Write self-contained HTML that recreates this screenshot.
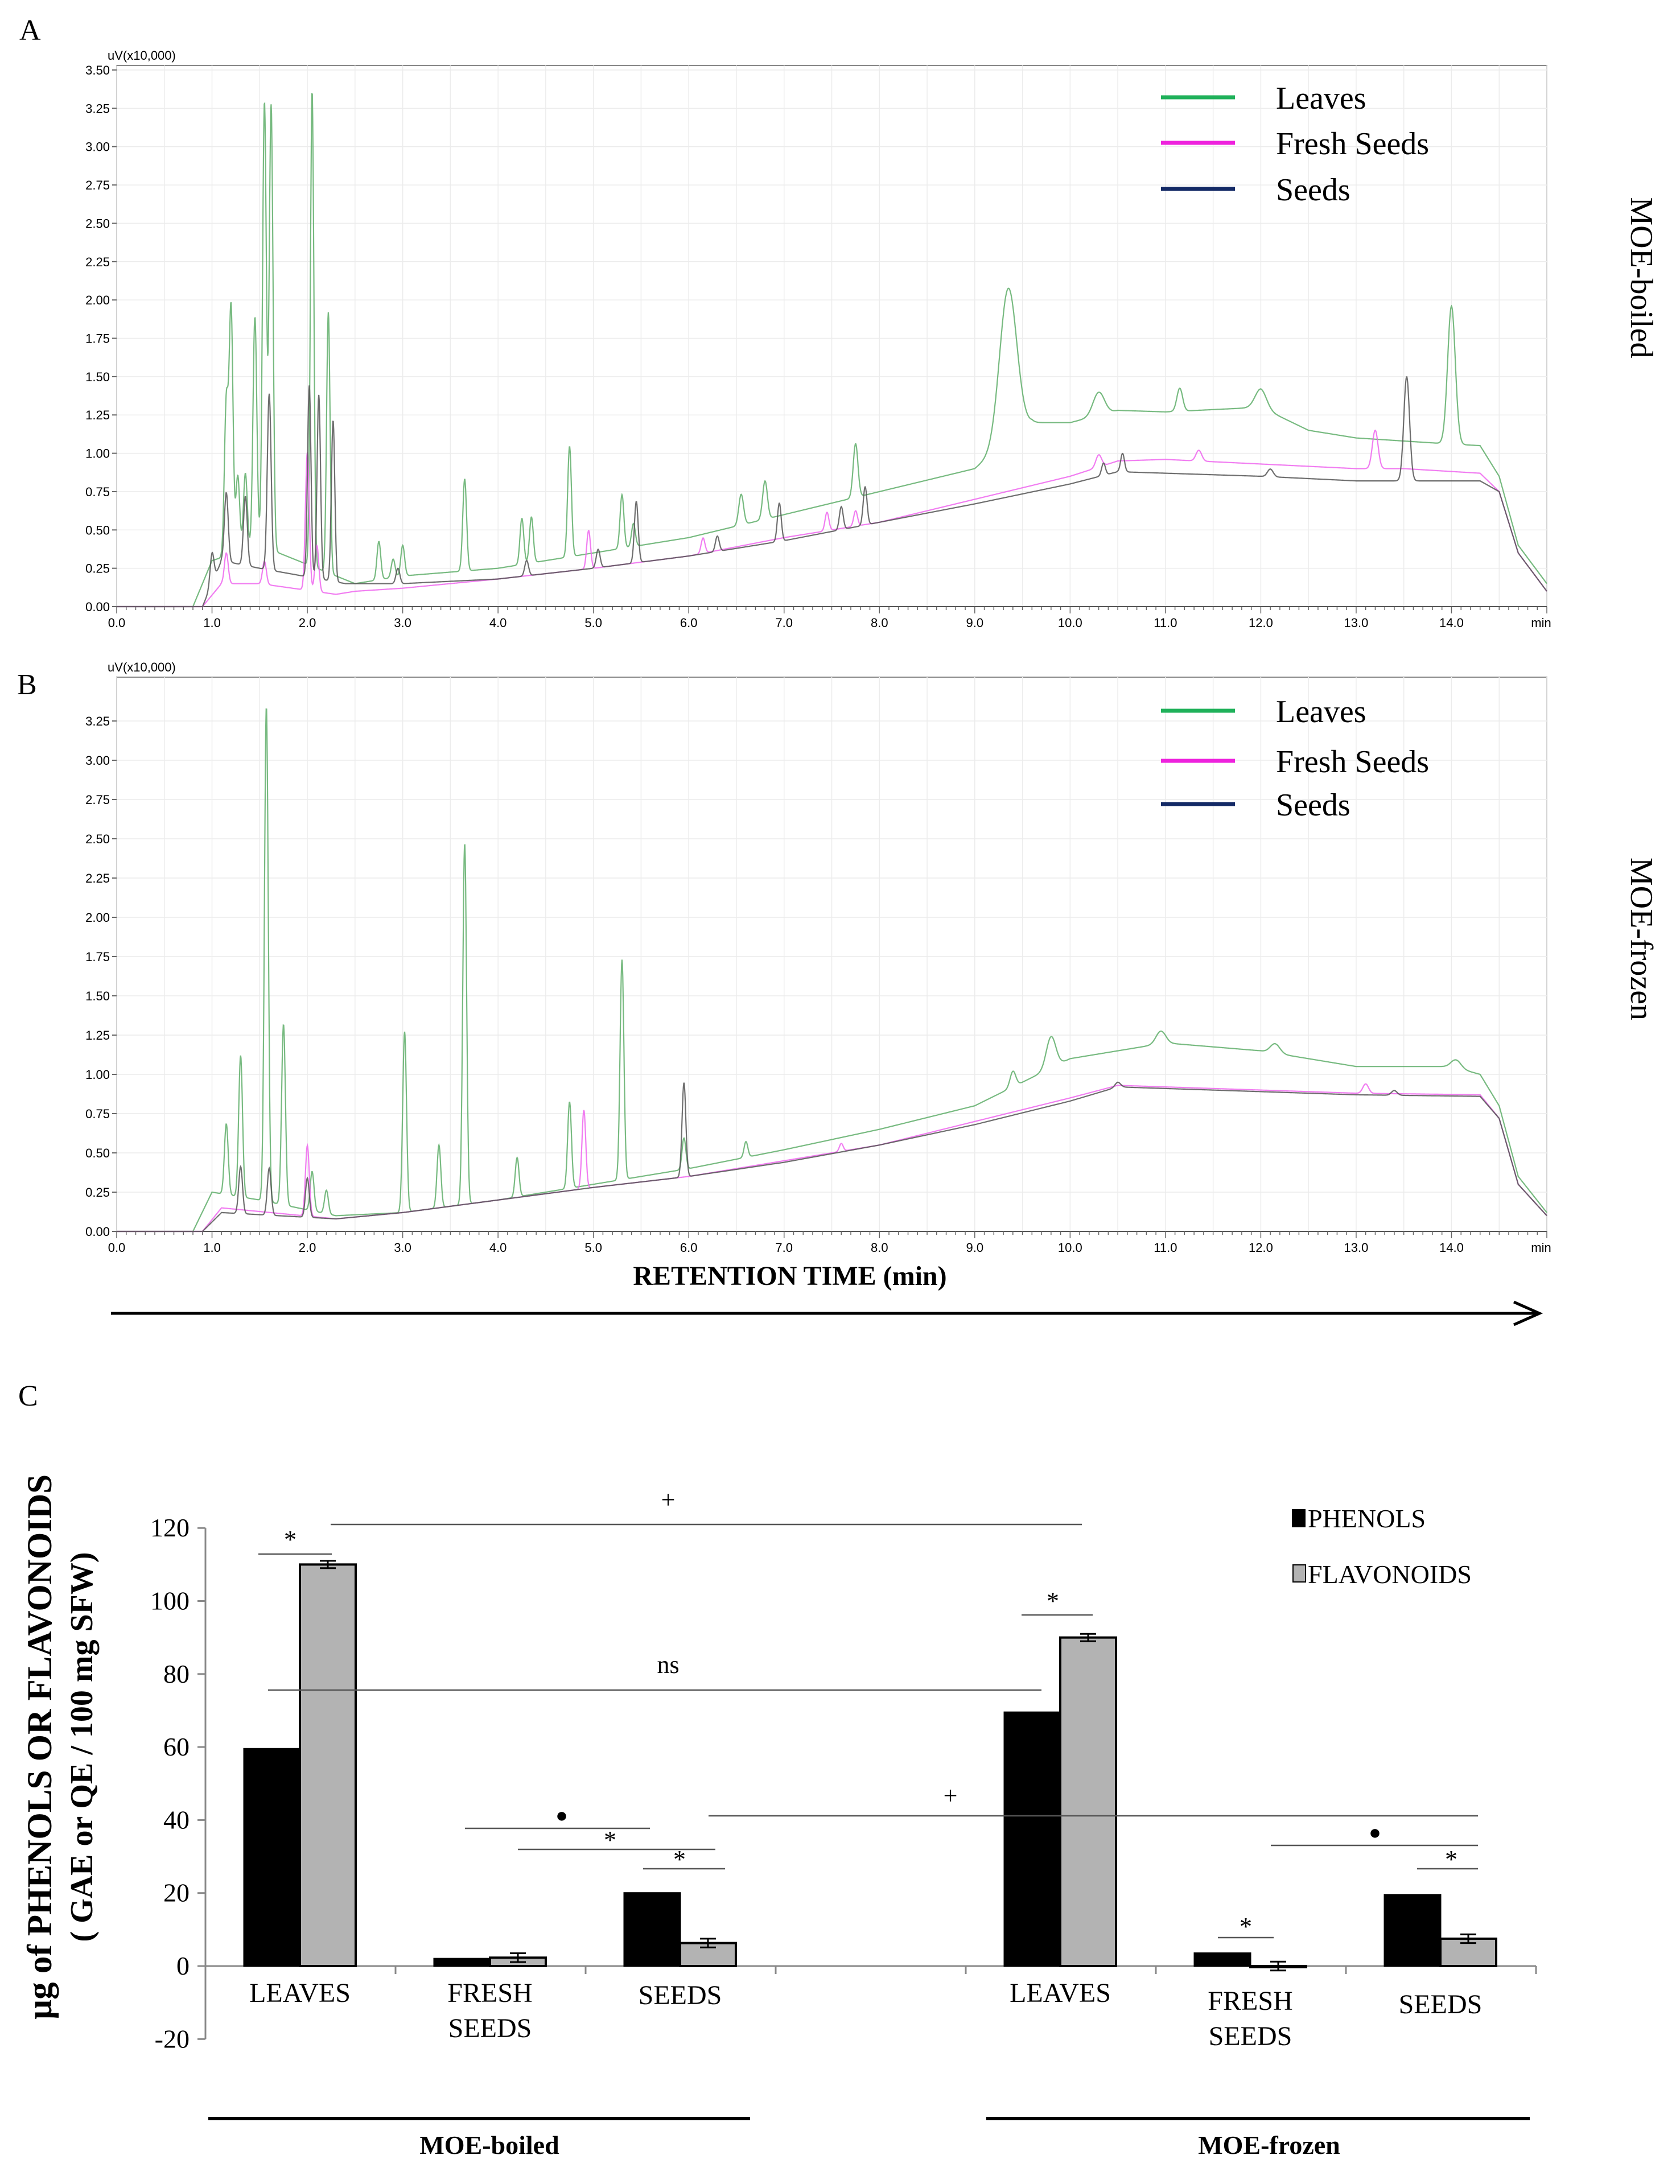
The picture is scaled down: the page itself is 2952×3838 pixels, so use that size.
<!DOCTYPE html>
<html><head><meta charset="utf-8"><style>
html,body{margin:0;padding:0;background:#fff}
svg{display:block}
</style></head><body>
<svg id="fig" width="2952" height="3838" xmlns="http://www.w3.org/2000/svg" font-family="Liberation Serif, serif">
<g id="gA"></g>
<g id="gB"></g>
<g id="gC"></g>
<text x="34" y="70" font-size="52">A</text>
<text x="30" y="1220" font-size="52">B</text>
<text x="32" y="2470" font-size="52">C</text>
<text transform="translate(2866,488) rotate(90)" text-anchor="middle" font-size="56">MOE-boiled</text>
<text transform="translate(2866,1650) rotate(90)" text-anchor="middle" font-size="56">MOE-frozen</text>
<text x="1388" y="2258" text-anchor="middle" font-size="48" font-weight="bold">RETENTION TIME (min)</text>
<line x1="195" y1="2308" x2="2700" y2="2308" stroke="#000" stroke-width="5"/>
<polyline points="2660,2288 2705,2308 2660,2328" fill="none" stroke="#000" stroke-width="5"/>
</svg>
<script>
// ---------- Chromatogram data ----------
const tickTimes = [0,1,2,3,4,5,6,7,8,9,10,11,12,13,14];
const yTicksA = [0,0.25,0.5,0.75,1,1.25,1.5,1.75,2,2.25,2.5,2.75,3,3.25,3.5];
const yTicksB = [0,0.25,0.5,0.75,1,1.25,1.5,1.75,2,2.25,2.5,2.75,3,3.25];
const seriesNames = ["Leaves","Fresh Seeds","Seeds"];
const baseA_leaves = [[0,0],[0.8,0],[1.0,0.3],[1.5,0.4],[2.3,0.2],[2.5,0.15],[3,0.2],[4,0.25],[5,0.35],[6,0.45],[7,0.6],[8,0.75],[9,0.9],[9.6,1.2],[10,1.2],[10.5,1.28],[11,1.27],[12,1.3],[12.5,1.15],[13,1.1],[13.5,1.08],[14,1.06],[14.3,1.05],[14.5,0.85],[14.7,0.4],[15,0.15]];
const baseA_fresh = [[0,0],[0.9,0],[1.1,0.15],[1.5,0.15],[2.3,0.08],[2.5,0.1],[3,0.12],[4,0.18],[5,0.25],[6,0.33],[7,0.45],[8,0.55],[9,0.7],[10,0.85],[10.5,0.95],[11,0.96],[12,0.93],[13,0.9],[13.5,0.9],[14.3,0.87],[14.5,0.75],[14.7,0.35],[15,0.1]];
const baseA_seeds = [[0,0],[0.9,0],[1.1,0.3],[1.5,0.25],[2.4,0.15],[3,0.15],[4,0.18],[5,0.25],[6,0.33],[7,0.43],[8,0.55],[9,0.67],[10,0.8],[10.5,0.88],[11,0.87],[12,0.85],[13,0.82],[14.3,0.82],[14.5,0.75],[14.7,0.35],[15,0.1]];
const peaksA_leaves = [[1.15,1.0,0.02],[1.2,1.6,0.02],[1.27,0.5,0.02],[1.35,0.5,0.02],[1.45,1.5,0.02],[1.55,2.9,0.02],[1.62,2.9,0.02],[2.05,3.1,0.018],[2.22,1.7,0.018],[2.75,0.25,0.02],[2.9,0.12,0.02],[3.0,0.2,0.02],[3.65,0.6,0.02],[4.25,0.3,0.02],[4.35,0.3,0.02],[4.75,0.72,0.02],[5.3,0.35,0.02],[5.42,0.15,0.02],[6.55,0.2,0.025],[6.8,0.25,0.025],[7.75,0.35,0.025],[9.35,1.0,0.09],[10.3,0.15,0.06],[11.15,0.15,0.03],[12.0,0.12,0.06],[14.0,0.9,0.04]];
const peaksA_fresh = [[1.15,0.2,0.02],[1.55,0.15,0.02],[2.0,0.9,0.02],[2.1,0.3,0.02],[4.95,0.25,0.02],[6.15,0.1,0.02],[7.45,0.12,0.02],[7.75,0.1,0.02],[10.3,0.08,0.03],[11.35,0.07,0.03],[13.2,0.25,0.03]];
const peaksA_seeds = [[1.0,0.2,0.02],[1.15,0.45,0.02],[1.35,0.45,0.02],[1.6,1.15,0.02],[2.02,1.25,0.018],[2.12,1.2,0.018],[2.27,1.05,0.018],[2.95,0.1,0.02],[4.3,0.1,0.02],[5.05,0.12,0.02],[5.45,0.4,0.02],[6.3,0.1,0.02],[6.95,0.25,0.02],[7.6,0.15,0.02],[7.85,0.25,0.02],[10.35,0.08,0.02],[10.55,0.12,0.02],[12.1,0.05,0.03],[13.53,0.68,0.03]];
const baseB_leaves = [[0,0],[0.8,0],[1.0,0.25],[1.5,0.2],[2.3,0.1],[3,0.12],[4,0.2],[5,0.3],[6,0.4],[7,0.52],[8,0.65],[9,0.8],[9.5,0.95],[10,1.1],[11,1.2],[12,1.15],[13,1.05],[14,1.05],[14.3,1.0],[14.5,0.8],[14.7,0.35],[15,0.12]];
const baseB_fresh = [[0,0],[0.9,0],[1.1,0.15],[2.3,0.08],[3,0.12],[4,0.2],[5,0.28],[6,0.35],[7,0.45],[8,0.55],[9,0.7],[10,0.85],[10.5,0.93],[11,0.92],[12,0.9],[13,0.88],[14.3,0.87],[14.5,0.72],[14.7,0.3],[15,0.1]];
const baseB_seeds = [[0,0],[0.9,0],[1.1,0.12],[2.3,0.08],[3,0.12],[4,0.2],[5,0.28],[6,0.35],[7,0.44],[8,0.55],[9,0.68],[10,0.83],[10.5,0.92],[11,0.91],[12,0.89],[13,0.87],[14.3,0.86],[14.5,0.72],[14.7,0.3],[15,0.1]];
const peaksB_leaves = [[1.15,0.45,0.02],[1.3,0.9,0.02],[1.57,3.15,0.02],[1.75,1.15,0.02],[2.05,0.25,0.02],[2.2,0.15,0.02],[3.02,1.15,0.02],[3.38,0.4,0.02],[3.65,2.3,0.02],[4.2,0.25,0.02],[4.75,0.55,0.02],[5.3,1.4,0.02],[5.95,0.2,0.02],[6.6,0.1,0.02],[9.4,0.1,0.03],[9.8,0.2,0.05],[10.95,0.08,0.05],[12.15,0.06,0.05],[14.05,0.05,0.05]];
const peaksB_fresh = [[2.0,0.45,0.02],[4.9,0.5,0.02],[7.6,0.05,0.02],[13.1,0.06,0.03]];
const peaksB_seeds = [[1.3,0.3,0.02],[1.6,0.3,0.02],[2.0,0.25,0.02],[5.95,0.6,0.02],[10.5,0.03,0.03],[13.4,0.03,0.03]];

const NS="http://www.w3.org/2000/svg";
function mk(tag,attrs,parent){const e=document.createElementNS(NS,tag);for(const k in attrs)e.setAttribute(k,attrs[k]);parent.appendChild(e);return e;}
function interp(base,t){for(let i=1;i<base.length;i++){if(t<=base[i][0]){const a=base[i-1],b=base[i];return a[1]+(b[1]-a[1])*(t-a[0])/(b[0]-a[0]);}}return base[base.length-1][1];}
function signal(base,peaks,t){let v=interp(base,t);for(const p of peaks){const d=(t-p[0])/p[2];if(Math.abs(d)<6)v+=p[1]*Math.exp(-0.5*d*d);}return v;}

function chromatogram(g,top,bottom,yTicks,ymax,series,legendY){
  const x0=205,x1=2718;
  const xs=t=>x0+(t/15)*(x1-x0);
  const ys=v=>bottom-v*(bottom-top)/ymax;
  const frame=mk('rect',{x:x0,y:top-8,width:x1-x0,height:bottom-top+8,fill:'#fff',stroke:'#888','stroke-width':2},g);
  
  
  for(let t=0;t<=15;t+=0.5){const l=mk('line',{x1:xs(t),x2:xs(t),y1:top-8,y2:bottom,stroke:'#ececec','stroke-width':1.5},g);
    
    }
  yTicks.forEach(v=>{const l=mk('line',{x1:x0,x2:x1,y1:ys(v),y2:ys(v),stroke:'#ececec','stroke-width':1.5},g);
    
    
    const tk=mk('line',{x1:x0-8,x2:x0,y1:ys(v),y2:ys(v),stroke:'#666','stroke-width':2},g);
    
    
    const tx=mk('text',{x:x0-12,y:ys(v)+8,'text-anchor':'end','font-size':22,'font-family':'Liberation Sans, sans-serif'},g);
    tx.textContent=v.toFixed(2);
    
    });
  const ax=mk('line',{x1:x0,x2:x1,y1:bottom,y2:bottom,stroke:'#555','stroke-width':2},g);
  
  
  for(let t=0;t<=15.001;t+=0.1){const major=Math.abs(t-Math.round(t))<0.01;const l=mk('line',{x1:xs(t),x2:xs(t),y1:bottom,y2:bottom+(major?12:6),stroke:'#666','stroke-width':1.5},g);
    
    }
  tickTimes.forEach(t=>{const tx=mk('text',{x:xs(t),y:bottom+36,'text-anchor':'middle','font-size':22,'font-family':'Liberation Sans, sans-serif'},g);
    tx.textContent=t.toFixed(1);
    
    });
  const mn=mk('text',{x:x1-10,y:bottom+36,'text-anchor':'middle','font-size':22,'font-family':'Liberation Sans, sans-serif'},g);mn.textContent='min';
  
  
  const ul=mk('text',{x:x0-16,y:top-18,'font-size':22,'font-family':'Liberation Sans, sans-serif'},g);ul.textContent='uV(x10,000)';
  
  
  series.forEach(s=>{let d='';for(let t=0;t<=15;t+=0.004){const v=signal(s.base,s.peaks,t);d+=(d?'L':'M')+xs(t).toFixed(1)+','+ys(v).toFixed(1);}
    const p=mk('path',{d:d,fill:'none',stroke:s.color,'stroke-width':2.2,opacity:0.85},g);
    
    });
  series.forEach((s,i)=>{const y=legendY[i];
    const l=mk('line',{x1:2040,x2:2170,y1:y,y2:y,stroke:s.legend,'stroke-width':7},g);
    
    
    const tx=mk('text',{x:2242,y:y+20,'font-size':56},g);tx.textContent=seriesNames[i];
    
    });
}
chromatogram(document.getElementById('gA'),123,1066,yTicksA,3.5,[
 {key:'leaves',base:baseA_leaves,peaks:peaksA_leaves,color:'#5fae6a',legend:'#1fb15a'},
 {key:'fresh-seeds',base:baseA_fresh,peaks:peaksA_fresh,color:'#ee66ee',legend:'#ee22dd'},
 {key:'seeds',base:baseA_seeds,peaks:peaksA_seeds,color:'#555',legend:'#142a66'}],[171,251,332]);
chromatogram(document.getElementById('gB'),1198,2164,yTicksB,3.5,[
 {key:'leaves',base:baseB_leaves,peaks:peaksB_leaves,color:'#5fae6a',legend:'#1fb15a'},
 {key:'fresh-seeds',base:baseB_fresh,peaks:peaksB_fresh,color:'#ee66ee',legend:'#ee22dd'},
 {key:'seeds',base:baseB_seeds,peaks:peaksB_seeds,color:'#555',legend:'#142a66'}],[1249,1337,1413]);

// ---------- Bar chart data ----------
const categories = ["LEAVES","FRESH SEEDS","SEEDS","","LEAVES","FRESH SEEDS","SEEDS"];
const phenols = [59.5,2,20,null,69.5,3.5,19.5];
const flavonoids = [110,2.3,6.3,null,90,0,7.5];
const flavErr = [1,1.2,1.2,null,1,1.2,1.2];
const yTicksC = [-20,0,20,40,60,80,100,120];
(function(){
 const g=document.getElementById('gC');
 const X0=361,catW=334,Y0=3455,per=128.3/20;
 const ys=v=>Y0-v*per;
 const xc=i=>X0+i*catW;
 const yax=mk('line',{x1:X0,x2:X0,y1:ys(120),y2:ys(-20),stroke:'#888','stroke-width':3},g);
 
 
 yTicksC.forEach(v=>{const t=mk('line',{x1:X0-14,x2:X0,y1:ys(v),y2:ys(v),stroke:'#888','stroke-width':3},g);
  
  
  const tx=mk('text',{x:X0-28,y:ys(v)+15,'text-anchor':'end','font-size':46},g);tx.textContent=v;
  
  });
 const xax=mk('line',{x1:X0,x2:xc(7),y1:Y0,y2:Y0,stroke:'#888','stroke-width':3},g);
 
 
 for(let i=1;i<=7;i++){const t=mk('line',{x1:xc(i),x2:xc(i),y1:Y0,y2:Y0+14,stroke:'#888','stroke-width':3},g);
  
  }
 const bw=98;
 categories.forEach((c,i)=>{
  if(phenols[i]===null)return;
  const bx=xc(i)+68;
  const p=mk('rect',{x:bx,y:Math.min(ys(phenols[i]),Y0),width:bw,height:Math.abs(Y0-ys(phenols[i])),fill:'#000',stroke:'#000','stroke-width':3},g);
  
  
  const f=mk('rect',{x:bx+bw,y:Math.min(ys(flavonoids[i]),Y0),width:bw,height:Math.max(Math.abs(Y0-ys(flavonoids[i])),2),fill:'#b3b3b3',stroke:'#000','stroke-width':4},g);
  
  
  const ex=bx+bw*1.5,e=flavErr[i];
  const eb=mk('path',{d:`M${ex},${ys(flavonoids[i]+e)}V${ys(flavonoids[i]-e)}M${ex-14},${ys(flavonoids[i]+e)}h28M${ex-14},${ys(flavonoids[i]-e)}h28`,stroke:'#000','stroke-width':3,fill:'none'},g);
  
  
 });
 const labelY=[[3518],[3518,3580],[3522],[],[3518],[3532,3594],[3538]];
 categories.forEach((c,i)=>{if(!c)return;const parts=c.split(' ');
  parts.forEach((w,k)=>{const tx=mk('text',{x:xc(i)+166,y:labelY[i][k],'text-anchor':'middle','font-size':48},g);tx.textContent=w;
   
   });});
 const yt=mk('text',{transform:'translate(90,3070) rotate(-90)','text-anchor':'middle','font-size':61,'font-weight':'bold'},g);yt.textContent='µg of PHENOLS OR FLAVONOIDS';
 
 
 const yt2=mk('text',{transform:'translate(162,3070) rotate(-90)','text-anchor':'middle','font-size':56,'font-weight':'bold'},g);yt2.textContent='( GAE or QE / 100 mg SFW)';
 
 
 const l1=mk('rect',{x:2270,y:2652,width:24,height:32,fill:'#000'},g);
 
 
 const t1=mk('text',{x:2298,y:2684,'font-size':46},g);t1.textContent='PHENOLS';
 
 
 const l2=mk('rect',{x:2272,y:2750,width:22,height:30,fill:'#b3b3b3',stroke:'#000','stroke-width':2},g);
 
 
 const t2=mk('text',{x:2298,y:2782,'font-size':46},g);t2.textContent='FLAVONOIDS';
 
 
 const ann=[[581,1901,2679,'+',1174,2650],[454,583,2731,'*',510,2712],[471,1830,2970,'ns',1174,2940],[1795,1920,2838,'*',1850,2820],
  [817,1142,3213,'●',987,3202],[910,1257,3250,'*',1072,3240],[1130,1274,3284,'*',1194,3274],[1245,2597,3191,'+',1670,3170],
  [2233,2597,3243,'●',2416,3232],[2490,2597,3284,'*',2550,3274],[2140,2238,3405,'*',2189,3392]];
 ann.forEach(a=>{const l=mk('line',{x1:a[0],x2:a[1],y1:a[2],y2:a[2],stroke:'#555','stroke-width':2.5},g);
  
  
  const tx=mk('text',{x:a[4],y:a[5]+(a[3]==='*'?8:0),'text-anchor':'middle','font-size':a[3]==='●'?36:44},g);tx.textContent=a[3];
  
  });
 [[366,1318,'MOE-boiled',860],[1733,2688,'MOE-frozen',2230]].forEach(q=>{
  const l=mk('line',{x1:q[0],x2:q[1],y1:3723,y2:3723,stroke:'#000','stroke-width':6},g);
  
  
  const tx=mk('text',{x:q[3],y:3785,'text-anchor':'middle','font-size':46,'font-weight':'bold'},g);tx.textContent=q[2];
  
  });
})();
</script>
</body></html>
